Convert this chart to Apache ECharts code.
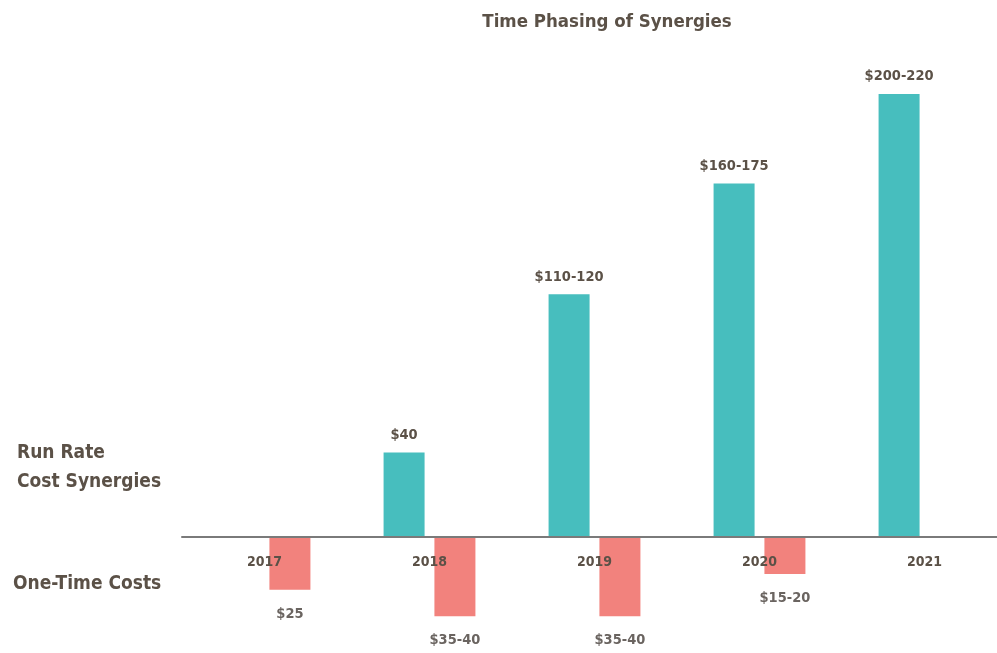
<!DOCTYPE html>
<html>
<head>
<meta charset="utf-8">
<script src="https://cdn.jsdelivr.net/npm/echarts@6/dist/echarts.min.js"></script>
<style>
  html, body { margin: 0; padding: 0; background: #fff; }
  #chart { width: 997px; height: 653px; }
</style>
</head>
<body>
<div id="chart"></div>
<script>
// Years on the category axis
const years = ['2017', '2018', '2019', '2020', '2021'];
// Run-rate cost synergies (midpoint of each range, $M)
const synergyValues = [0, 40, 115, 167.5, 210];
const synergyLabels = ['', '$40', '$110-120', '$160-175', '$200-220'];
// One-time costs (negative, midpoint of each range, $M)
const costValues = [-25, -37.5, -37.5, -17.5, 0];
const costLabels = ['$25', '$35-40', '$35-40', '$15-20', ''];

const FONT = '"Liberation Sans Narrow", "DejaVu Sans Condensed", "Liberation Sans", sans-serif';
const TEXT = '#5b5147';
const TEAL = '#47bebe';
const SALMON = '#f2827d';

// Two stacked plot areas share one baseline: synergies above, costs below.
const plotLeft = 182, plotWidth = 825, baseline = 537, pxPerUnit = 2.11;
const upperMax = 250, lowerMin = -50;

const empty = years.map(() => null);

const chart = echarts.init(document.getElementById('chart'));
chart.setOption({
  animation: false,
  title: {
    text: 'Time Phasing of Synergies',
    left: 602, top: 8,
    textAlign: 'center',
    textStyle: { fontFamily: FONT, fontSize: 18.5, fontWeight: 'bold', color: TEXT }
  },
  graphic: [
    { type: 'text', left: 17, top: 439,
      style: { text: 'Run Rate\nCost Synergies', fontFamily: FONT, fontSize: 19, fontWeight: 'bold', fill: TEXT, lineHeight: 29 } },
    { type: 'text', left: 13, top: 575,
      style: { text: 'One-Time Costs', fontFamily: FONT, fontSize: 19, fontWeight: 'bold', fill: TEXT } }
  ],
  grid: [
    { left: plotLeft, width: plotWidth, top: baseline - upperMax * pxPerUnit, height: upperMax * pxPerUnit,
      outerBoundsMode: 'none', containLabel: false },
    { left: plotLeft, width: plotWidth, top: baseline, height: -lowerMin * pxPerUnit,
      outerBoundsMode: 'none', containLabel: false }
  ],
  xAxis: [
    {
      type: 'category', gridIndex: 0, data: years, z: 10,
      axisLine: { lineStyle: { color: '#7a7a7a', width: 2 } },
      axisTick: { show: false },
      axisLabel: { margin: 18, fontFamily: FONT, fontSize: 14, fontWeight: 'bold', color: TEXT }
    },
    {
      type: 'category', gridIndex: 1, data: years, show: false
    }
  ],
  yAxis: [
    { type: 'value', gridIndex: 0, min: 0, max: upperMax, show: false, splitLine: { show: false } },
    { type: 'value', gridIndex: 1, min: lowerMin, max: 0, show: false, splitLine: { show: false } }
  ],
  series: [
    {
      name: 'Run Rate Cost Synergies',
      type: 'bar', xAxisIndex: 0, yAxisIndex: 0,
      data: synergyValues,
      barWidth: 41, barGap: '24%',
      itemStyle: { color: TEAL },
      label: {
        show: true, position: 'top', distance: 10,
        formatter: p => synergyLabels[p.dataIndex],
        fontFamily: FONT, fontSize: 14.5, fontWeight: 'bold', color: TEXT
      }
    },
    // keeps the right-hand slot of each year free for the cost bar
    { name: 'cost-slot', type: 'bar', xAxisIndex: 0, yAxisIndex: 0, data: empty, barWidth: 41, silent: true },
    // keeps the left-hand slot of each year free for the synergy bar
    { name: 'synergy-slot', type: 'bar', xAxisIndex: 1, yAxisIndex: 1, data: empty, barWidth: 41, barGap: '24%', silent: true },
    {
      name: 'One-Time Costs',
      type: 'bar', xAxisIndex: 1, yAxisIndex: 1,
      data: costValues,
      barWidth: 41,
      itemStyle: { color: SALMON },
      label: {
        show: true, position: 'bottom', distance: 17,
        formatter: p => costLabels[p.dataIndex],
        fontFamily: FONT, fontSize: 14.5, fontWeight: 'bold', color: '#6a6460'
      }
    }
  ]
});
</script>
</body>
</html>
